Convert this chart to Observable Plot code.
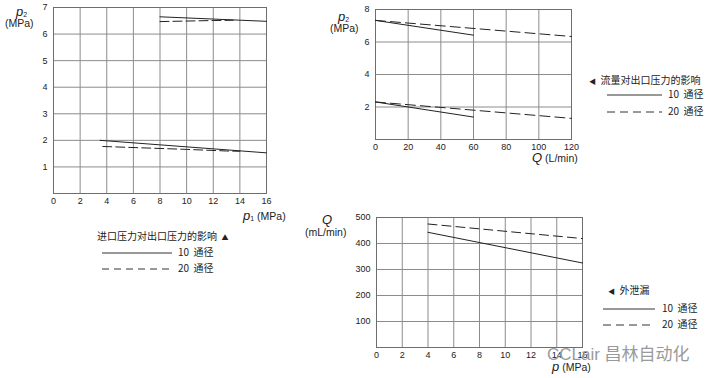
<!DOCTYPE html>
<html><head><meta charset="utf-8">
<script src="https://cdn.jsdelivr.net/npm/d3@7"></script>
<script src="https://cdn.jsdelivr.net/npm/@observablehq/plot@0.6"></script>
<style>
html,body{margin:0;padding:0;background:#fff;}
#wrap{position:relative;width:712px;height:378px;overflow:hidden;font-family:"Liberation Sans",Arial,sans-serif;color:#222;}
.abs{position:absolute;white-space:nowrap;line-height:1;}
.cjk{font-family:"Noto Sans CJK SC","Liberation Sans",sans-serif;font-size:10px;}
.lab{font-size:10.5px;}
.var{font-style:italic;font-size:13px;}
.sub{font-size:7px;position:relative;top:1px;}
.wm{font-family:"Liberation Sans","Noto Sans CJK SC",sans-serif;font-size:17px;color:#9a9a9a;}
svg.leg{position:absolute;overflow:visible;}
</style></head><body>
<div id="wrap"></div>
<script>
// ---- Panel A: 进口压力对出口压力的影响 (p1 vs p2) ----
const inletXTicks = [0, 2, 4, 6, 8, 10, 12, 14, 16];
const inletYTicks = [1, 2, 3, 4, 5, 6, 7];
const inlet10High = [[8, 6.65], [16, 6.48]];
const inlet10Low = [[3.5, 2.0], [16, 1.53]];
const inlet20High = [[8, 6.47], [12, 6.51], [13.5, 6.52]];
const inlet20Low = [[3.7, 1.77], [10, 1.66], [13, 1.6], [14, 1.59]];

// ---- Panel B: 流量对出口压力的影响 (Q vs p2) ----
const flowXTicks = [0, 20, 40, 60, 80, 100, 120];
const flowYTicks = [2, 4, 6, 8];
const flow10High = [[0, 7.33], [60, 6.42]];
const flow10Low = [[0, 2.31], [60, 1.38]];
const flow20High = [[0, 7.33], [120, 6.34]];
const flow20Low = [[0, 2.31], [120, 1.3]];

// ---- Panel C: 外泄漏 (p vs Q) ----
const leakXTicks = [0, 2, 4, 6, 8, 10, 12, 14, 16];
const leakYTicks = [100, 200, 300, 400, 500];
const leak10 = [[4, 443], [16, 325]];
const leak20 = [[4, 475], [16, 419]];

const legendTitles = ["流量对出口压力的影响", "进口压力对出口压力的影响", "外泄漏"];
const legendItems = ["10&nbsp;&nbsp;通径", "20&nbsp;&nbsp;通径"];
const watermark = "CCLair 昌林自动化";

const GRID = "#8c8c8c";
const INK = "#222";
const style = {fontFamily: '"Liberation Sans", Arial, sans-serif', fontSize: "9px", color: INK, background: "transparent", overflow: "visible"};

function panel({width, height, margins, xDomain, yDomain, xTicks, yTicks, solid, dashed, dash}) {
  return Plot.plot({
    width, height,
    marginLeft: margins[0], marginTop: margins[1], marginRight: margins[2], marginBottom: margins[3],
    style,
    x: {domain: xDomain},
    y: {domain: yDomain},
    marks: [
      Plot.gridX(xTicks, {stroke: GRID, strokeOpacity: 1}),
      Plot.gridY(yTicks, {stroke: GRID, strokeOpacity: 1}),
      Plot.frame({stroke: "#6e6e6e"}),
      Plot.axisX(xTicks, {tickSize: 0, tickPadding: 4, label: null, fill: INK}),
      Plot.axisY(yTicks, {tickSize: 0, tickPadding: 6, label: null, fill: INK}),
      ...solid.map(d => Plot.line(d, {stroke: INK, strokeWidth: 1})),
      ...dashed.map(d => Plot.line(d, {stroke: INK, strokeWidth: 1, strokeDasharray: dash}))
    ]
  });
}

const wrap = document.getElementById("wrap");
function place(el, left, top) { el.style.position = "absolute"; el.style.left = left + "px"; el.style.top = top + "px"; wrap.appendChild(el); }

place(panel({width: 290, height: 215, margins: [53, 7, 24, 22], xDomain: [0, 16], yDomain: [0, 7],
  xTicks: inletXTicks, yTicks: inletYTicks, solid: [inlet10High, inlet10Low], dashed: [inlet20High, inlet20Low], dash: "9,4"}), 0, 0);
place(panel({width: 270, height: 160, margins: [55, 9, 19, 21], xDomain: [0, 120], yDomain: [0, 8],
  xTicks: flowXTicks, yTicks: flowYTicks, solid: [flow10High, flow10Low], dashed: [flow20High, flow20Low], dash: "10,5"}), 320, 0);
place(panel({width: 300, height: 170, margins: [76, 17, 18, 23], xDomain: [0, 16], yDomain: [0, 500],
  xTicks: leakXTicks, yTicks: leakYTicks, solid: [leak10], dashed: [leak20], dash: "9,5"}), 300, 200);

function html(s, left, top, cls) { const d = document.createElement("div"); d.className = "abs " + (cls || ""); d.innerHTML = s; place(d, left, top); return d; }

// axis labels
html('<span class="var">p</span><span class="sub">2</span>', 16, 3);
html('(MPa)', 5, 18, "lab");
html('<span class="var">p</span><span class="sub">1</span> (MPa)', 243, 209, "lab");
html('<span class="var">p</span><span class="sub">2</span>', 338, 8);
html('(MPa)', 330, 23, "lab");
html('<span class="var">Q</span> (L/min)', 532, 151, "lab");
html('<span class="var">Q</span>', 322, 211);
html('(mL/min)', 305, 227, "lab");
html('<span class="var">p</span> (MPa)', 552, 360, "lab");

// legends
function legLine(x1, x2, y, dash) {
  const s = d3.create("svg").attr("class", "leg").attr("width", x2 - x1).attr("height", 2)
    .style("left", x1 + "px").style("top", (y - 1) + "px");
  s.append("line").attr("x1", 0).attr("x2", x2 - x1).attr("y1", 1).attr("y2", 1)
    .attr("stroke", "#333").attr("stroke-width", 1).attr("stroke-dasharray", dash || null);
  wrap.appendChild(s.node());
}

html('<span style="font-size:7px">◀</span>&nbsp; ' + legendTitles[0], 589, 75, "cjk");
legLine(607, 662, 95); html(legendItems[0], 668, 89, "cjk");
legLine(607, 662, 112, "8,5"); html(legendItems[1], 668, 106, "cjk");

html(legendTitles[1] + '&nbsp; <span style="font-size:7px">▲</span>', 97, 231, "cjk");
legLine(102, 172, 253); html(legendItems[0], 178, 247, "cjk");
legLine(102, 172, 269, "7,5"); html(legendItems[1], 178, 263, "cjk");

html('<span style="font-size:7px">◀</span>&nbsp; ' + legendTitles[2], 608, 285, "cjk");
legLine(603, 655, 309); html(legendItems[0], 662, 303, "cjk");
legLine(603, 655, 325, "8,5"); html(legendItems[1], 662, 319, "cjk");

// watermark
html(watermark, 547, 346, "wm");
</script>
</body></html>
